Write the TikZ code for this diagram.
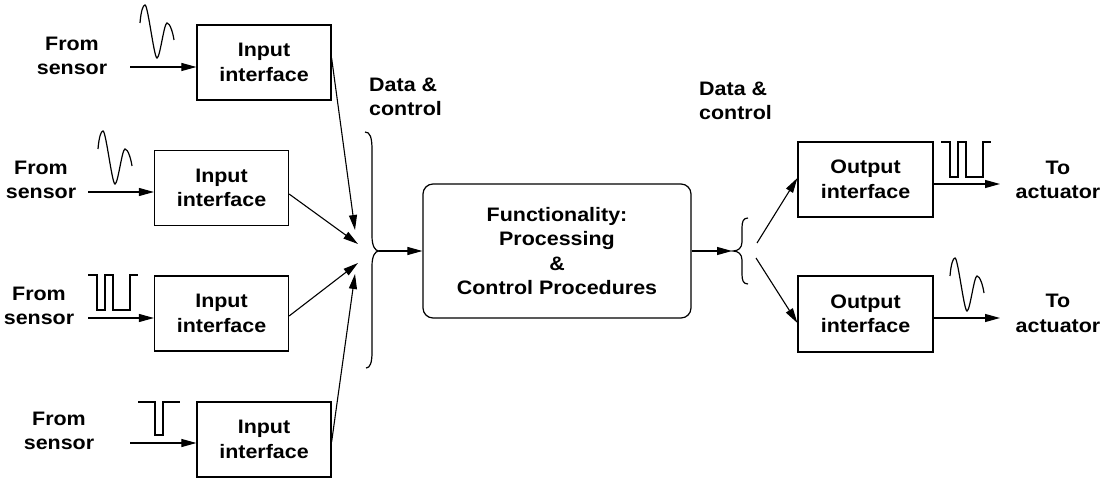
\documentclass[tikz,border=0pt]{standalone}
\usepackage{fontspec}
\setmainfont{Liberation Sans}[FakeStretch=1.1]
\usetikzlibrary{arrows.meta}
\newcommand\diagfont{\fontsize{19.5}{24.5}\selectfont\bfseries}
\tikzset{
  box/.style={draw, line width=1.2pt, minimum width=134pt, minimum height=75pt,
    inner sep=0pt, align=center, font=\diagfont},
  lbl/.style={align=center, font=\diagfont, inner sep=0pt},
  conn/.style={line width=1.1pt, -{Triangle[length=15pt,width=8pt]}},
  wave/.style={line width=1.2pt},
  brace/.style={line width=1.2pt},
  sinewave/.pic={\draw[wave] (0,18) .. controls (1,6) and (3,0) .. (5,0)
      .. controls (8,0) and (14,53) .. (17,53)
      .. controls (20,53) and (24,18) .. (27,18)
      .. controls (30,18) and (33,28) .. (34,35);},
  squarewave/.pic={\draw[wave] (0,0) -| (9,35) -| (17,0) -| (25,35) -| (42,0) -- (50,0);},
  pulsewave/.pic={\draw[wave] (0,0) -| (17,33) -| (25,0) -- (42,0);}
}
\begin{document}
\begin{tikzpicture}[x=1pt, y=-1pt]
\useasboundingbox (0,0) rectangle (1113,478);

% input side
\node[box] (in1) at (264,62.5) {Input\\interface};
\node[box] (in2) at (221.5,188) {Input\\interface};
\node[box] (in3) at (221.5,313.5) {Input\\interface};
\node[box] (in4) at (264,439.5) {Input\\interface};

\node[lbl] (s1) at (72,56) {From\\sensor};
\node[lbl] (s2) at (41,180) {From\\sensor};
\node[lbl] (s3) at (39,306) {From\\sensor};
\node[lbl] (s4) at (59,431) {From\\sensor};

\coordinate (a1) at (130,67);
\coordinate (a2) at (88,192);
\coordinate (a3) at (88,318);
\coordinate (a4) at (130,443);
\draw[conn] (a1) -- ([yshift=-4.5pt]in1.west);
\draw[conn] (a2) -- ([yshift=-4pt]in2.west);
\draw[conn] (a3) -- ([yshift=-4.5pt]in3.west);
\draw[conn] (a4) -- ([yshift=-3.5pt]in4.west);

\pic at (140,5) {sinewave};
\pic at (98,131) {sinewave};
\pic at (88,275) {squarewave};
\pic at (138,402) {pulsewave};

% merge into processing block
\coordinate (t1) at (355,230);
\coordinate (t2) at (358,244);
\coordinate (t3) at (358,263);
\coordinate (t4) at (355,274);
\draw[conn] ([yshift=4.5pt]in1.east) -- (t1);
\draw[conn] ([yshift=-6pt]in2.east) -- (t2);
\draw[conn] ([yshift=-2.5pt]in3.east) -- (t3);
\draw[conn] ([yshift=-2.5pt]in4.east) -- (t4);

\draw[brace] (365,132) .. controls (370,132) and (372,137) .. (372,150)
  -- (372,236) .. controls (372,246) and (375,251) .. (379,251)
  .. controls (375,251) and (372,256) .. (372,266)
  -- (372,352) .. controls (372,363) and (370,368) .. (366,368);
\coordinate (lt) at (379,251);

\node[lbl, anchor=west, align=left] (dc1) at (369,97) {Data \&\\control};

\node[draw, line width=1.2pt, rounded corners=10pt, minimum width=268pt,
  minimum height=134pt, align=center, font=\diagfont] (func) at (557,251)
  {Functionality:\\Processing\\\&\\Control Procedures};
\draw[conn] (lt) -- (func.west);

% output side
\coordinate (rt) at (732,251);
\draw[conn] (func.east) -- (rt);
\draw[brace] (748,218) .. controls (743,218) and (742,222) .. (742,228)
  -- (742,242) .. controls (742,248) and (738,251) .. (733,251)
  .. controls (738,251) and (742,254) .. (742,260)
  -- (742,274) .. controls (742,280) and (743,284) .. (748,284);

\node[lbl, anchor=west, align=left] (dc2) at (699,101) {Data \&\\control};

\node[box, minimum width=135pt] (out1) at (865.5,179.5) {Output\\interface};
\node[box, minimum width=135pt, minimum height=76pt] (out2) at (865.5,314) {Output\\interface};

\coordinate (b1) at (757,243);
\coordinate (b2) at (756,258);
\draw[conn] (b1) -- ([yshift=1.5pt]out1.west);
\draw[conn] (b2) -- ([yshift=-9pt]out2.west);

\coordinate (e1) at (1000,184);
\coordinate (e2) at (1000,318);
\draw[conn] ([yshift=-4.5pt]out1.east) -- (e1);
\draw[conn] ([yshift=-4pt]out2.east) -- (e2);

\node[lbl] (act1) at (1058,180) {To\\actuator};
\node[lbl] (act2) at (1058,313.5) {To\\actuator};

\pic at (941,142) {squarewave};
\pic at (950,258) {sinewave};
\end{tikzpicture}
\end{document}
